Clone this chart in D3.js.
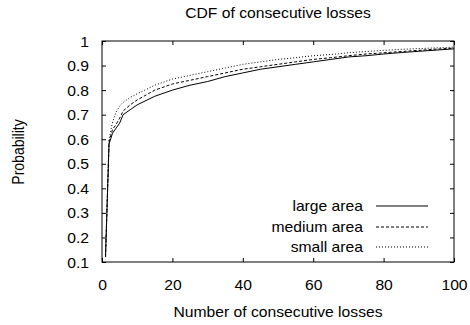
<!DOCTYPE html>
<html>
<head>
<meta charset="utf-8">
<script src="https://cdn.jsdelivr.net/npm/d3@7"></script>
<style>
  html, body { margin: 0; padding: 0; background: #fff; }
  svg { display: block; }
  text { font-family: "Liberation Sans", Arial, Helvetica, sans-serif; font-size: 14px; fill: #000; }
</style>
</head>
<body>
<svg id="chart" width="470" height="325"></svg>
<script>
// Number of consecutive losses at which each CDF is sampled
const lossCounts = [1, 2, 3, 4, 5, 6, 8, 10, 15, 20, 25, 30, 35, 40, 45, 50, 55, 60, 65, 70, 75, 80, 85, 90, 95, 100];

// Cumulative probability per area size
const largeArea  = [0.12, 0.58, 0.625, 0.645, 0.665, 0.70, 0.72, 0.74, 0.775, 0.80, 0.82, 0.835, 0.855, 0.87, 0.885, 0.895, 0.905, 0.915, 0.925, 0.935, 0.94, 0.947, 0.953, 0.958, 0.963, 0.968];
const mediumArea = [0.12, 0.59, 0.64, 0.66, 0.685, 0.715, 0.74, 0.76, 0.80, 0.825, 0.84, 0.855, 0.87, 0.885, 0.895, 0.905, 0.915, 0.925, 0.932, 0.94, 0.947, 0.952, 0.957, 0.962, 0.967, 0.971];
const smallArea  = [0.13, 0.60, 0.67, 0.71, 0.735, 0.75, 0.77, 0.785, 0.82, 0.845, 0.86, 0.875, 0.89, 0.905, 0.915, 0.925, 0.932, 0.94, 0.945, 0.952, 0.957, 0.962, 0.966, 0.969, 0.972, 0.975];

const seriesNames = ["large area", "medium area", "small area"];
const xTicks = [0, 20, 40, 60, 80, 100];
const yTicks = [0.1, 0.2, 0.3, 0.4, 0.5, 0.6, 0.7, 0.8, 0.9, 1];

const titleText = "CDF of consecutive losses";
const xLabel = "Number of consecutive losses";
const yLabel = "Probability";

// Plot area bounds
const plotL = 102, plotR = 454, plotT = 41, plotB = 262;
const sx = 1.12; // horizontal stretch applied to all text

const svg = d3.select("#chart");
const x = d3.scaleLinear().domain([0, 100]).range([plotL, plotR]);
const y = d3.scaleLinear().domain([0.1, 1]).range([plotB, plotT]);

const dashes = [null, "3,2", "1,2"];
const series = [largeArea, mediumArea, smallArea].map((vals, i) => ({
  name: seriesNames[i],
  dash: dashes[i],
  points: lossCounts.map((c, j) => [c, vals[j]])
}));

function stretchText(sel, tx, ty) {
  sel.attr("x", null).attr("y", null).attr("dy", null)
     .attr("transform", `translate(${tx},${ty}) scale(${sx},1)`);
}

// Axes (ticks point inward, mirrored on top and right)
const gx = svg.append("g").attr("transform", `translate(0,${plotB})`)
  .call(d3.axisBottom(x).tickValues(xTicks).tickSizeInner(-4).tickSizeOuter(0).tickFormat(d3.format("d")));
gx.selectAll("text").each(function() { stretchText(d3.select(this), 0, 28); })
  .attr("text-anchor", "middle");

const gy = svg.append("g").attr("transform", `translate(${plotL},0)`)
  .call(d3.axisLeft(y).tickValues(yTicks).tickSizeInner(-4).tickSizeOuter(0).tickFormat(d => d === 1 ? "1" : d3.format(".1f")(d)));
gy.selectAll("text").each(function() { stretchText(d3.select(this), -13, 5); })
  .attr("text-anchor", "end");

svg.append("g").attr("transform", `translate(0,${plotT})`)
  .call(d3.axisTop(x).tickValues(xTicks).tickSizeInner(-4).tickSizeOuter(0).tickFormat(""));
svg.append("g").attr("transform", `translate(${plotR},0)`)
  .call(d3.axisRight(y).tickValues(yTicks).tickSizeInner(-4).tickSizeOuter(0).tickFormat(""));

svg.selectAll(".domain").remove();
svg.selectAll(".tick line").attr("stroke", "#000").attr("stroke-width", 1);
svg.selectAll("g[font-family]").attr("font-family", null).attr("font-size", null);
svg.selectAll(".tick text").attr("fill", "#000");

// Plot frame
svg.append("rect")
  .attr("x", plotL).attr("y", plotT)
  .attr("width", plotR - plotL).attr("height", plotB - plotT)
  .attr("fill", "none").attr("stroke", "#000").attr("stroke-width", 1);

// Curves
const line = d3.line().x(d => x(d[0])).y(d => y(d[1]));
svg.append("g").selectAll("path").data(series).join("path")
  .attr("d", d => line(d.points))
  .attr("fill", "none")
  .attr("stroke", "#000")
  .attr("stroke-width", 1)
  .attr("stroke-dasharray", d => d.dash);

// Legend
const legendY = [206, 227, 247];
const lg = svg.append("g");
series.forEach((s, i) => {
  lg.append("line")
    .attr("x1", 376).attr("x2", 428)
    .attr("y1", legendY[i]).attr("y2", legendY[i])
    .attr("stroke", "#000").attr("stroke-width", 1)
    .attr("stroke-dasharray", s.dash);
  lg.append("text").attr("text-anchor", "end").text(s.name)
    .call(stretchText, 363, legendY[i] + 5);
});

// Titles
svg.append("text").attr("text-anchor", "middle").text(titleText)
  .call(stretchText, 278, 18);
svg.append("text").attr("text-anchor", "middle").text(xLabel)
  .call(stretchText, 278, 317);
svg.append("text").attr("text-anchor", "middle").text(yLabel)
  .attr("transform", `translate(24,152) rotate(-90) scale(1,${sx})`);
</script>
</body>
</html>
